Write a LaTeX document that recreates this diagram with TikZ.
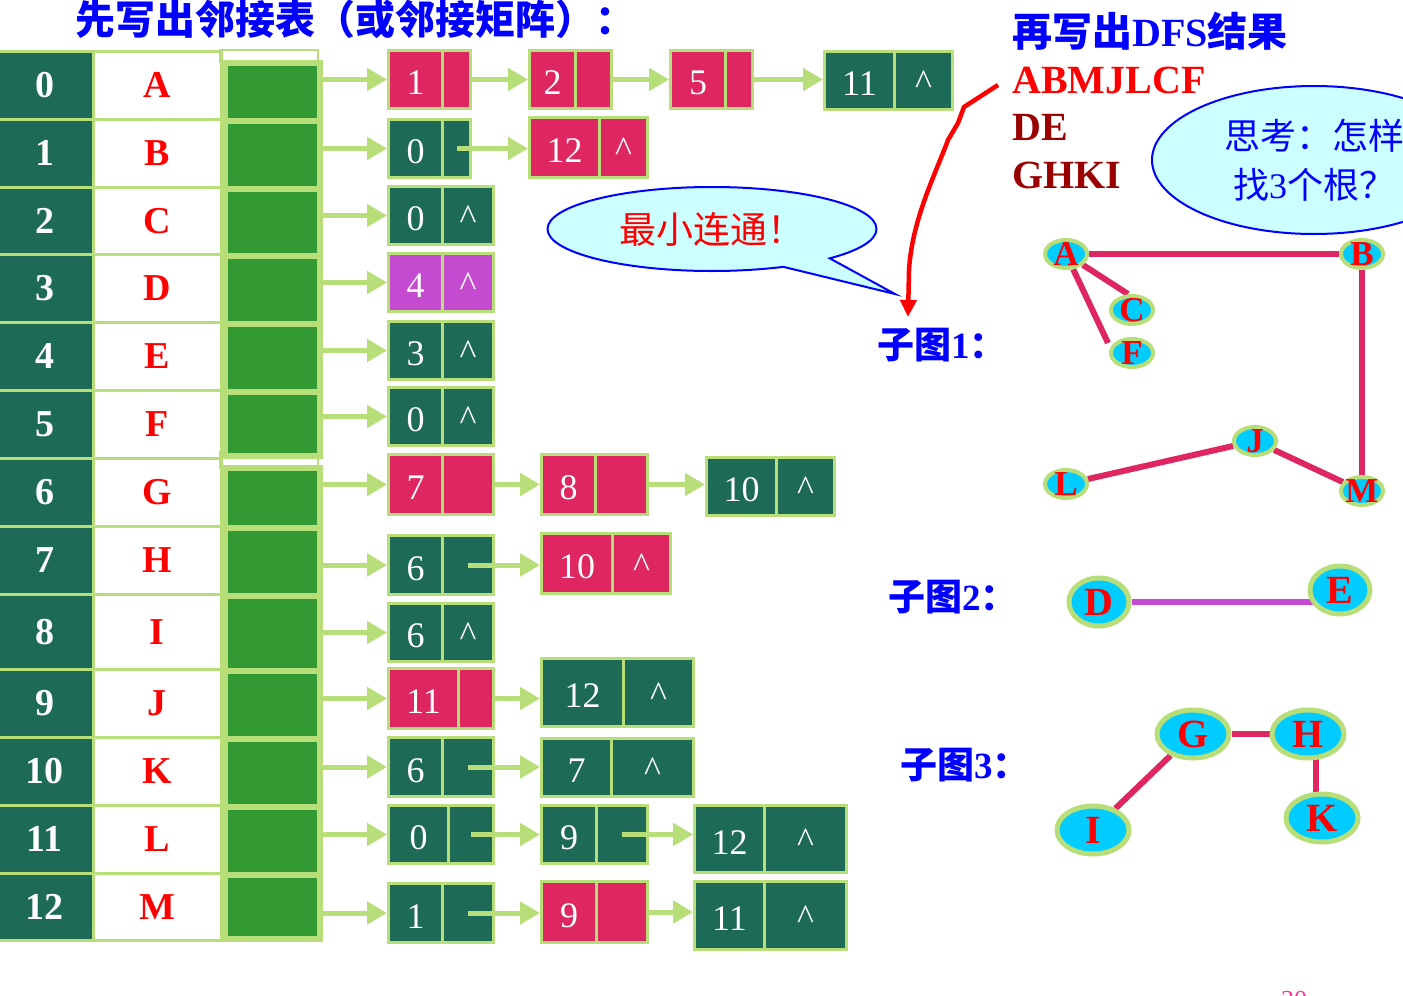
\documentclass[tikz,border=0pt]{standalone}
\usepackage{fontspec}
\setmainfont{Liberation Serif}
\newfontfamily\cjk{Noto Sans CJK SC}
\usetikzlibrary{arrows.meta,shapes.geometric,shapes.callouts}
\pgfdeclarelayer{bg}
\pgfdeclarelayer{edges}
\pgfsetlayers{bg,edges,main}
\definecolor{cteal}{HTML}{1D6B57}
\definecolor{cgreen}{HTML}{339933}
\definecolor{clight}{HTML}{B8DE7A}
\definecolor{ccrim}{HTML}{DE2760}
\definecolor{cpurp}{HTML}{C44ACF}
\definecolor{ccyan}{HTML}{00CCFF}
\definecolor{ccall}{HTML}{CCFFFF}
\definecolor{cdred}{HTML}{990000}
\definecolor{cpink}{HTML}{FF3399}
\newcommand\caretsym{\textasciicircum}
\tikzset{
  idxcell/.style={draw=clight, line width=2.5pt, fill=cteal, text=white, inner sep=0pt,
    anchor=north west, minimum width=97pt, font=\bfseries\fontsize{38}{40}\selectfont},
  namecell/.style={draw=clight, line width=2.5pt, fill=white, text=red, inner sep=0pt,
    anchor=north west, minimum width=128pt, font=\bfseries\fontsize{38}{40}\selectfont},
  ptrcell/.style={draw=clight, line width=6pt, fill=cgreen, inner sep=0pt,
    anchor=north west, minimum width=95pt},
  lcell/.style={draw=clight, line width=3pt, inner sep=0pt, anchor=north west, text=white,
    text depth=0pt, font=\fontsize{36}{40}\selectfont},
  ptrarrow/.style={draw=clight, line width=5pt, -{Triangle[length=20pt,width=22pt]}},
  gn1/.style={ellipse, fill=ccyan, draw=clight, line width=4pt, inner sep=0pt,
    minimum width=42pt, minimum height=28pt},
  gn2/.style={ellipse, fill=ccyan, draw=clight, line width=5pt, inner sep=0pt,
    minimum width=72pt, minimum height=48pt},
  gt1/.style={text=red, inner sep=0pt, font=\bfseries\fontsize{35}{35}\selectfont},
  gt2/.style={text=red, inner sep=0pt, font=\bfseries\fontsize{40}{40}\selectfont},
  gedge/.style={draw=ccrim, line width=6pt},
  sublabel/.style={anchor=west, text=blue, inner sep=0pt, font=\bfseries\fontsize{37}{40}\selectfont},
}
\newcommand\trow[4]{%
  \node[idxcell, minimum height={(#4-#3)*1pt}] (idx#1) at (-5,#3) {#1};
  \node[namecell, minimum height={(#4-#3)*1pt}] (nm#1) at (92,#3) {#2};}
\newcommand\pcell[3]{%
  \node[ptrcell, minimum height={(#3-#2)*1pt}] (ptr#1) at (222,#2) {};}
% name, x1, xdiv, x2, y1, y2, fill, data, link
\newcommand\lnode[9]{%
  \node[lcell, fill=#7, minimum width={(#3-#2)*1pt}, minimum height={(#6-#5)*1pt}, text height=30pt] (#1d) at (#2,#5) {#8};
  \node[lcell, fill=#7, minimum width={(#4-#3)*1pt}, minimum height={(#6-#5)*1pt}, text height=27pt] (#1p) at (#3,#5) {#9};}
\begin{document}
\begin{tikzpicture}[x=1pt,y=-1pt]
\useasboundingbox (0,0) rectangle (1403,996);
\begin{pgfonlayer}{bg}
  \fill[white] (0,0) rectangle (1403,996);
\end{pgfonlayer}

% title
\node[anchor=west, text=blue, inner sep=0pt, font=\cjk\bfseries\fontsize{40}{42}\selectfont] (title) at (75,19) {先写出邻接表（或邻接矩阵）：};

% table
\trow{0}{A}{50}{118}
\trow{1}{B}{118}{186}
\trow{2}{C}{186}{253}
\trow{3}{D}{253}{321}
\trow{4}{E}{321}{389}
\trow{5}{F}{389}{457}
\trow{6}{G}{457}{525}
\trow{7}{H}{525}{593}
\trow{8}{I}{593}{668}
\trow{9}{J}{668}{736}
\trow{10}{K}{736}{804}
\trow{11}{L}{804}{872}
\trow{12}{M}{872}{939}
\draw[clight, line width=2pt] (220,50) rectangle (318,62);
\draw[clight, line width=2pt] (220,452) rectangle (318,468);
\pcell{0}{60}{118}
\pcell{1}{118}{186}
\pcell{2}{186}{253}
\pcell{3}{253}{321}
\pcell{4}{321}{389}
\pcell{5}{389}{453}
\pcell{6}{465}{525}
\pcell{7}{525}{593}
\pcell{8}{593}{668}
\pcell{9}{668}{736}
\pcell{10}{736}{804}
\pcell{11}{804}{872}
\pcell{12}{872}{936}

% adjacency list nodes
\lnode{r0a}{387}{441}{469}{49}{107}{ccrim}{1}{}
\lnode{r0b}{528}{574}{610}{49}{107}{ccrim}{2}{}
\lnode{r0c}{669}{724}{751}{49}{107}{ccrim}{5}{}
\lnode{r0d}{823}{893}{951}{50}{108}{cteal}{11}{\caretsym}
\lnode{r1a}{387}{441}{469}{118}{176}{cteal}{0}{}
\lnode{r1b}{528}{598}{646}{116}{176}{ccrim}{12}{\caretsym}
\lnode{r2a}{387}{441}{492}{185}{243}{cteal}{0}{\caretsym}
\lnode{r3a}{387}{441}{492}{252}{310}{cpurp}{4}{\caretsym}
\lnode{r4a}{387}{441}{492}{320}{378}{cteal}{3}{\caretsym}
\lnode{r5a}{387}{441}{492}{386}{444}{cteal}{0}{\caretsym}
\lnode{r6a}{387}{441}{492}{453}{513}{ccrim}{7}{}
\lnode{r6b}{540}{594}{646}{453}{513}{ccrim}{8}{}
\lnode{r6c}{705}{775}{833}{456}{514}{cteal}{10}{\caretsym}
\lnode{r7a}{387}{441}{492}{534}{593}{cteal}{6}{}
\lnode{r7b}{540}{611}{669}{532}{592}{ccrim}{10}{\caretsym}
\lnode{r8a}{387}{441}{492}{602}{660}{cteal}{6}{\caretsym}
\lnode{r9a}{387}{457}{492}{667}{727}{ccrim}{11}{}
\lnode{r9b}{540}{622}{692}{657}{725}{cteal}{12}{\caretsym}
\lnode{r10a}{387}{441}{492}{736}{795}{cteal}{6}{}
\lnode{r10b}{540}{610}{692}{737}{795}{cteal}{7}{\caretsym}
\lnode{r11a}{387}{447}{492}{804}{862}{cteal}{0}{}
\lnode{r11b}{540}{595}{646}{804}{862}{cteal}{9}{}
\lnode{r11c}{693}{763}{845}{804}{871}{cteal}{12}{\caretsym}
\lnode{r12a}{387}{441}{492}{882}{941}{cteal}{1}{}
\lnode{r12b}{540}{595}{646}{880}{941}{ccrim}{9}{}
\lnode{r12c}{693}{763}{845}{880}{948}{cteal}{11}{\caretsym}

% head pointers
\foreach \r/\n in {0/r0a,1/r1a,2/r2a,3/r3a,4/r4a,5/r5a,6/r6a,7/r7a,8/r8a,9/r9a,10/r10a,11/r11a,12/r12a}
  \draw[ptrarrow] (ptr\r.east |- \n d.west) -- (\n d.west);

% links between list nodes
\draw[ptrarrow] (r0ap.east) -- (r0ap.east -| r0bd.west);
\draw[ptrarrow] (r0bp.east) -- (r0bp.east -| r0cd.west);
\draw[ptrarrow] (r0cp.east) -- (r0cp.east -| r0dd.west);
\draw[ptrarrow] (r1ap.center) -- (r1ap.center -| r1bd.west);
\draw[ptrarrow] (r6ap.east) -- (r6ap.east -| r6bd.west);
\draw[ptrarrow] (r6bp.east) -- (r6bp.east -| r6cd.west);
\draw[ptrarrow] (r7ap.center) -- (r7ap.center -| r7bd.west);
\draw[ptrarrow] (r9ap.east) -- (r9ap.east -| r9bd.west);
\draw[ptrarrow] (r10ap.center) -- (r10ap.center -| r10bd.west);
\draw[ptrarrow] (r11ap.center) -- (r11ap.center -| r11bd.west);
\draw[ptrarrow] (r11bp.center) -- (r11bp.center -| r11cd.west);
\draw[ptrarrow] (r12ap.center) -- (r12ap.center -| r12bd.west);
\draw[ptrarrow] (r12bp.east) -- (r12bp.east -| r12cd.west);

% callout 1
\coordinate (tipA) at (895,294);
\node[ellipse callout, draw=blue, line width=2pt, fill=ccall, minimum width=329pt, minimum height=84pt,
  inner sep=0pt, callout absolute pointer={(tipA)}, callout pointer arc=20, text=red,
  font=\cjk\fontsize{37}{40}\selectfont] (call1) at (712,229) {最小连通！};

% callout 2
\node[ellipse, draw=blue, line width=2pt, fill=ccall, minimum width=324pt, minimum height=148pt,
  inner sep=0pt, align=center, text=blue, font=\cjk\fontsize{36}{49}\selectfont] (call2) at (1314,160)
  {思考：怎样\\找{\rmfamily 3}个根？};

% DFS result
\node[anchor=west, text=blue, inner sep=0pt, font=\bfseries\fontsize{40}{42}\selectfont] (dfsh) at (1012,31) {{\cjk 再写出}DFS{\cjk 结果}};
\node[anchor=base west, text=red, inner sep=0pt, font=\bfseries\fontsize{40}{40}\selectfont] (res1) at (1012,93) {ABMJLCF};
\node[anchor=base west, text=cdred, inner sep=0pt, font=\bfseries\fontsize{40}{40}\selectfont] (res2) at (1012,140) {DE};
\node[anchor=base west, text=cdred, inner sep=0pt, font=\bfseries\fontsize{40}{40}\selectfont] (res3) at (1012,188) {GHKI};

% sub-graph labels
\node[sublabel] (sub1) at (877,345) {{\cjk 子图}1{\cjk ：}};
\node[sublabel] (sub2) at (888,597) {{\cjk 子图}2{\cjk ：}};
\node[sublabel] (sub3) at (900,765) {{\cjk 子图}3{\cjk ：}};

% red hand-drawn arrow
\coordinate (cs) at (998,85);
\coordinate (ce) at (908,317);
\draw[red, line width=4.5pt, line join=round, -{Triangle[length=17pt,width=16pt]}]
  (cs) -- (964,107) -- (958,123) -- (948,140) .. controls (935,175) and (912,220) .. (909,270) -- (ce);

% sub-graph 1
\node[gn1, label={[gt1]center:A}] (A) at (1066,254) {};
\node[gn1, label={[gt1]center:B}] (B) at (1362,254) {};
\node[gn1, label={[gt1]center:C}] (C) at (1132,310) {};
\node[gn1, label={[gt1]center:F}] (F) at (1132,353) {};
\node[gn1, label={[gt1]center:J}] (J) at (1255,441) {};
\node[gn1, label={[gt1]center:L}] (L) at (1066,484) {};
\node[gn1, label={[gt1]center:M}] (M) at (1362,491) {};

% sub-graph 2
\node[gn2, minimum width=60pt, label={[gt2]center:D}] (D) at (1099,602) {};
\node[gn2, minimum width=60pt, label={[gt2]center:E}] (E) at (1340,590) {};

% sub-graph 3
\node[gn2, label={[gt2]center:G}] (G) at (1193,734) {};
\node[gn2, label={[gt2]center:H}] (H) at (1308,734) {};
\node[gn2, label={[gt2]center:I}] (I) at (1093,830) {};
\node[gn2, label={[gt2]center:K}] (K) at (1322,818) {};

\begin{pgfonlayer}{edges}
  \draw[gedge] (A) -- (B);
  \draw[gedge] (A) -- ([xshift=-4pt]C.north);
  \draw[gedge] (A) -- ([xshift=-24pt,yshift=-6pt]F.north);
  \draw[gedge] (B) -- (M);
  \draw[gedge] (L) -- (J);
  \draw[gedge] (J) -- (M);
  \draw[gedge, draw=cpurp] (D) -- (D -| E);
  \draw[gedge] (G) -- (H);
  \draw[gedge] ([xshift=8pt]H.center) -- ([xshift=-6pt]K.center);
  \draw[gedge] (I) -- (G);
\end{pgfonlayer}

% page number
\node[text=cpink, inner sep=0pt, font=\fontsize{26}{26}\selectfont] (pg) at (1294,1000) {20};
\end{tikzpicture}
\end{document}
